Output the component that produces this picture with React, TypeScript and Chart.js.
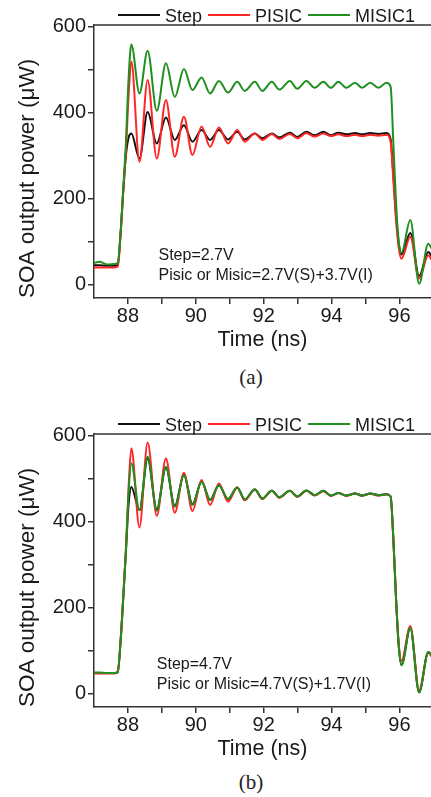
import React, { useEffect, useRef } from "react";
import { Chart, registerables } from "chart.js";

Chart.register(...registerables);

// ---- data ----
const timeNs = [87.0, 87.15, 87.4, 87.6, 87.7, 87.78, 87.86, 87.94, 88.02, 88.1, 88.34, 88.58, 88.85, 89.12, 89.38, 89.65, 89.9, 90.17, 90.42, 90.68, 90.95, 91.22, 91.44, 91.74, 91.96, 92.24, 92.46, 92.77, 92.99, 93.26, 93.5, 93.76, 93.98, 94.2, 94.44, 94.69, 94.9, 95.14, 95.38, 95.62, 95.74, 95.82, 95.9, 95.98, 96.06, 96.32, 96.58, 96.85, 96.95];

const aStep = [45, 45, 44, 44, 46, 115, 215, 300, 342, 351, 293, 401, 328, 388, 336, 370, 332, 359, 336, 359, 337, 355, 337, 351, 340, 351, 342, 353, 343, 355, 347, 355, 347, 353, 349, 352, 349, 352, 350, 352, 338, 255, 160, 95, 70, 120, 20, 76, 66];
const aPisic = [40, 40, 40, 40, 42, 112, 215, 310, 440, 518, 285, 475, 293, 429, 297, 390, 301, 367, 320, 365, 328, 359, 332, 351, 336, 350, 338, 350, 340, 352, 344, 351, 345, 349, 345, 348, 345, 348, 346, 348, 332, 245, 150, 85, 60, 111, 14, 68, 58];
const aMisic = [50, 53, 47, 48, 50, 118, 220, 330, 480, 558, 444, 543, 404, 514, 436, 501, 452, 481, 444, 473, 446, 471, 450, 471, 450, 471, 453, 473, 455, 473, 457, 471, 457, 471, 457, 469, 457, 469, 457, 469, 460, 330, 190, 100, 74, 150, 2, 95, 84];

const bStep = [48, 48, 48, 48, 50, 118, 220, 330, 440, 480, 426, 546, 428, 525, 436, 508, 440, 492, 450, 484, 452, 479, 451, 474, 453, 471, 456, 471, 458, 472, 461, 471, 460, 466, 460, 465, 460, 465, 461, 463, 458, 360, 220, 110, 66, 153, 3, 97, 88];
const bPisic = [47, 47, 47, 47, 50, 118, 222, 335, 480, 570, 386, 583, 413, 546, 420, 513, 424, 496, 438, 488, 446, 479, 449, 474, 452, 471, 455, 471, 457, 471, 460, 470, 459, 466, 459, 465, 460, 464, 460, 463, 458, 362, 222, 115, 76, 157, 8, 95, 86];
const bMisic = [49, 49, 48, 48, 50, 118, 220, 330, 470, 535, 426, 550, 425, 527, 434, 508, 438, 492, 450, 484, 452, 479, 451, 474, 453, 471, 456, 471, 458, 472, 461, 471, 460, 466, 460, 465, 460, 465, 461, 463, 458, 360, 220, 110, 66, 153, 3, 97, 88];

const seriesNames = ["Step", "PISIC", "MISIC1"];
const xTickValues = [88, 89, 90, 91, 92, 93, 94, 95, 96];
const yTickValues = [0, 100, 200, 300, 400, 500, 600];
const aNote = ["Step=2.7V", "Pisic or Misic=2.7V(S)+3.7V(I)"];
const bNote = ["Step=4.7V", "Pisic or Misic=4.7V(S)+1.7V(I)"];

// ---- styles ----
const SANS = '"Liberation Sans", Arial, Helvetica, sans-serif';
const COLORS = ["#111111", "#ff2626", "#1f8f1f"];
const AXIS = "#333333";
const TXT = "#1a1a1a";

type Props = { step: number[]; pisic: number[]; misic: number[]; note: string[]; noteX: number };

function SoaChart({ step, pisic, misic, note, noteX }: Props) {
  const ref = useRef<HTMLCanvasElement>(null);
  useEffect(() => {
    const series = [step, pisic, misic];
    const framePlugin = {
      id: "frameAndLegend",
      afterDraw(chart: any) {
        const ctx = chart.ctx;
        const area = chart.chartArea;
        ctx.save();
        // top border
        ctx.strokeStyle = AXIS;
        ctx.lineWidth = 1.5;
        ctx.beginPath();
        ctx.moveTo(area.left, area.top);
        ctx.lineTo(area.right, area.top);
        ctx.stroke();
        // legend
        ctx.font = `18px ${SANS}`;
        ctx.textBaseline = "alphabetic";
        let x = 118;
        const y = 15;
        chart.data.datasets.forEach((ds: any) => {
          ctx.strokeStyle = ds.borderColor;
          ctx.lineWidth = 2;
          ctx.beginPath();
          ctx.moveTo(x, y);
          ctx.lineTo(x + 42, y);
          ctx.stroke();
          x += 47;
          ctx.fillStyle = TXT;
          ctx.fillText(ds.label, x, y + 6.5);
          x += ctx.measureText(ds.label).width + 6;
        });
        // note text
        const xs = chart.scales.x;
        const ys = chart.scales.y;
        ctx.font = `16px ${SANS}`;
        ctx.fillStyle = TXT;
        const px = xs.getPixelForValue(noteX);
        ctx.fillText(note[0], px, ys.getPixelForValue(58));
        ctx.fillText(note[1], px, ys.getPixelForValue(10));
        ctx.restore();
      },
    };

    const chart = new Chart(ref.current!, {
      type: "line",
      data: {
        datasets: seriesNames.map((name, k) => ({
          label: name,
          data: timeNs.map((t, i) => ({ x: t, y: series[k][i] })),
          borderColor: COLORS[k],
          backgroundColor: COLORS[k],
          borderWidth: 2,
          pointRadius: 0,
          cubicInterpolationMode: "monotone" as const,
          order: 3 - k,
        })),
      },
      options: {
        animation: false,
        responsive: false,
        devicePixelRatio: 1,
        layout: { padding: { top: 25, left: 0, right: 0, bottom: 0 } },
        plugins: { legend: { display: false }, tooltip: { enabled: false } },
        events: [],
        scales: {
          x: {
            type: "linear",
            min: 87,
            max: 96.93,
            afterBuildTicks: (axis: any) => {
              axis.ticks = xTickValues.map((v) => ({ value: v }));
            },
            afterFit: (s: any) => {
              s.height = 62;
            },
            ticks: {
              autoSkip: false,
              maxRotation: 0,
              padding: 0,
              color: TXT,
              font: { family: SANS, size: 20 },
              callback: (v: any) => (Number(v) % 2 === 0 ? String(v) : ""),
            },
            grid: { drawOnChartArea: false, drawTicks: true, tickLength: 6, color: AXIS, lineWidth: 1.5 },
            border: { display: true, color: AXIS, width: 1.5 },
            title: {
              display: true,
              text: "Time (ns)",
              color: TXT,
              font: { family: SANS, size: 21.5 },
              padding: { top: 0, bottom: 7 },
            },
          },
          y: {
            type: "linear",
            min: -31,
            max: 603,
            afterBuildTicks: (axis: any) => {
              axis.ticks = yTickValues.map((v) => ({ value: v }));
            },
            afterFit: (s: any) => {
              s.width = 94;
            },
            ticks: {
              padding: 2,
              color: TXT,
              font: { family: SANS, size: 20 },
              callback: (v: any) => (Number(v) % 200 === 0 ? String(v) : ""),
            },
            grid: { drawOnChartArea: false, drawTicks: true, tickLength: 6, color: AXIS, lineWidth: 1.5 },
            border: { display: true, color: AXIS, width: 1.5 },
            title: {
              display: true,
              align: "start",
              text: "SOA output power (\u03bcW)",
              color: TXT,
              font: { family: SANS, size: 22.5 },
              padding: { top: 14, bottom: 0 },
            },
          },
        },
      },
      plugins: [framePlugin],
    } as any);
    return () => chart.destroy();
  }, []);
  return <canvas ref={ref} width={431} height={360} style={{ display: "block" }} />;
}

const captionStyle: React.CSSProperties = {
  position: "absolute",
  left: 201,
  width: 100,
  height: 24,
  lineHeight: "24px",
  textAlign: "center",
  fontFamily: '"Liberation Serif", "Times New Roman", serif',
  fontSize: 21,
  color: "#222",
};

export default function App() {
  return (
    <div style={{ position: "absolute", left: 0, top: 0, width: 431, height: 797, background: "#fff", overflow: "hidden" }}>
      <div style={{ position: "absolute", left: 0, top: 0 }}>
        <SoaChart step={aStep} pisic={aPisic} misic={aMisic} note={aNote} noteX={88.9} />
      </div>
      <div style={{ ...captionStyle, top: 365 }}>(a)</div>
      <div style={{ position: "absolute", left: 0, top: 409 }}>
        <SoaChart step={bStep} pisic={bPisic} misic={bMisic} note={bNote} noteX={88.85} />
      </div>
      <div style={{ ...captionStyle, top: 770 }}>(b)</div>
    </div>
  );
}
